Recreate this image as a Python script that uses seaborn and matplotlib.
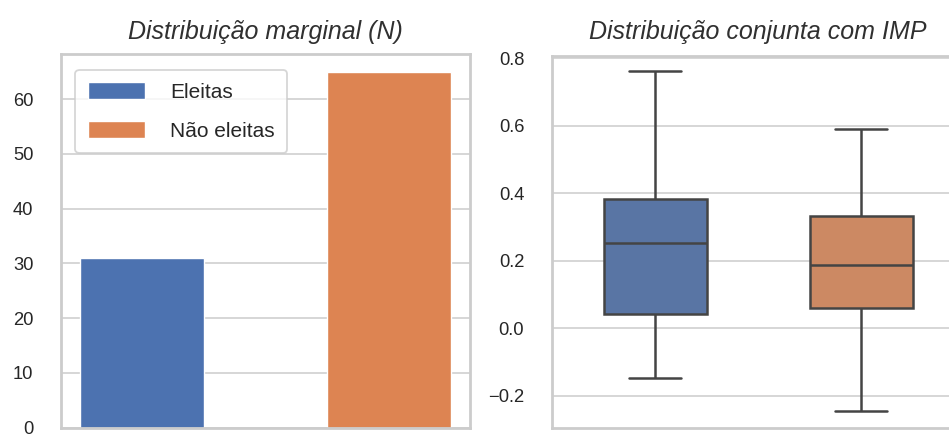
import matplotlib
matplotlib.use("Agg")
import matplotlib.pyplot as plt
import seaborn as sns
import pandas as pd

# Group labels and sizes
groups = ["Eleitas", "Não eleitas"]
counts = [31, 65]

# IMP five-number samples per group (min, Q1, median, Q3, max)
imp_eleitas = [-0.149, 0.041, 0.251, 0.382, 0.761]
imp_nao_eleitas = [-0.246, 0.060, 0.186, 0.331, 0.589]

palette = sns.color_palette("deep", 2)

sns.set_theme(style="whitegrid")
plt.rcParams["font.family"] = ["Liberation Sans", "DejaVu Sans"]
plt.rcParams["axes.edgecolor"] = "#cccccc"
plt.rcParams["axes.linewidth"] = 2.0
plt.rcParams["grid.color"] = "#d6d6d6"
plt.rcParams["grid.linewidth"] = 1.4

W, H = 949, 434
fig = plt.figure(figsize=(W / 100, H / 100), dpi=100)

def px_axes(x0, y0, x1, y1):
    return fig.add_axes([x0 / W, 1 - y1 / H, (x1 - x0) / W, (y1 - y0) / H])

ax1 = px_axes(61, 54, 470, 427.5)
ax2 = px_axes(552, 55.5, 964, 427.7)

TICK_SIZE = 13.2
TITLE_SIZE = 18.0

# Marginal counts
bar_df = pd.DataFrame({"grupo": groups, "N": counts})
sns.barplot(data=bar_df, x="grupo", y="N", hue="grupo", palette=palette,
            width=0.5, saturation=1, legend=False, ax=ax1)
ax1.set_xlim(-0.325, 1.325)
ax1.set_ylim(0, 68.25)
ax1.set_yticks(range(0, 70, 10))
ax1.set_xlabel("")
ax1.set_ylabel("")
ax1.tick_params(labelbottom=False, labelsize=TICK_SIZE, pad=14, colors="#262626")
ax1.xaxis.grid(False)
ax1.set_title("Distribuição marginal (N)", fontsize=TITLE_SIZE, style="italic",
              color="#303030", pad=10.5)
leg = ax1.legend(handles=list(ax1.patches[:2]), labels=groups,
                 loc="upper left", bbox_to_anchor=(0.02, 0.975),
                 fontsize=15.0, handlelength=2.75, handleheight=0.85,
                 handletextpad=1.2, labelspacing=0.95, borderpad=0.6,
                 frameon=True, borderaxespad=0.3)
leg.get_frame().set_edgecolor("#cccccc")
leg.get_frame().set_linewidth(1.3)
for t in leg.get_texts():
    t.set_color("#262626")

# Joint distribution with IMP
box_df = pd.DataFrame({
    "grupo": [groups[0]] * len(imp_eleitas) + [groups[1]] * len(imp_nao_eleitas),
    "IMP": imp_eleitas + imp_nao_eleitas,
})
sns.boxplot(data=box_df, x="grupo", y="IMP", hue="grupo", palette=palette,
            width=0.5, linewidth=1.8, linecolor="#444444", legend=False, ax=ax2)
ax2.set_ylim(-0.295, 0.808)
ax2.set_yticks([-0.2, 0.0, 0.2, 0.4, 0.6, 0.8])
ax2.set_xlabel("")
ax2.set_ylabel("")
ax2.tick_params(labelbottom=False, labelsize=TICK_SIZE, pad=14, colors="#262626")
ax2.xaxis.grid(False)
ax2.set_title("Distribuição conjunta com IMP", fontsize=TITLE_SIZE, style="italic",
              color="#303030", pad=12)

fig.savefig("out.png", dpi=100)
